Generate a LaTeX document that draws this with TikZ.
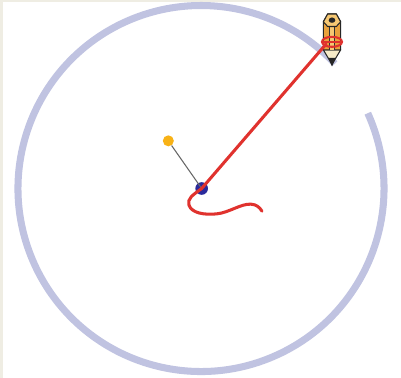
\documentclass[tikz,border=0pt]{standalone}
\definecolor{paper}{HTML}{EFEDE3}
\definecolor{track}{HTML}{C0C3E1}
\definecolor{trace}{HTML}{E0322E}
\definecolor{hubblue}{HTML}{2A2A9C}
\definecolor{pinyellow}{HTML}{F8B216}
\definecolor{wood}{HTML}{E9A23C}
\definecolor{woodlight}{HTML}{F6C873}
\definecolor{cone}{HTML}{F6EBC8}
\tikzset{
  dot/.style={circle,inner sep=0pt,minimum size=#1},
  outline/.style={draw=black!85,line width=.9pt,line join=round}
}
\begin{document}
\begin{tikzpicture}
\useasboundingbox (-6.03,-5.685) rectangle (6,5.655);
\fill[paper] (-6.03,-5.685) rectangle (6,5.655);
\fill[white] (-5.94,-5.685) rectangle (6,5.595);
\draw[track,line width=6pt] (24.3:5.49) arc (24.3:-317:5.49);
\node[dot=.38cm,fill=hubblue] (hub) at (0.02,0) {};
\node[dot=.33cm,fill=pinyellow] (pin) at (-0.98,1.43) {};
\coordinate (nib) at (3.75,4.33);
\draw[black!60,line width=.9pt] (pin) -- (hub.center);
% pencil
\draw[outline,fill=cone] (3.67,4.16) -- (3.93,3.72) -- (4.19,4.16) -- cycle;
\fill[black!85] (3.82,3.92) -- (3.93,3.66) -- (4.04,3.92) -- cycle;
\draw[outline,fill=wood] (3.67,5) -- (3.8,5.235) -- (4.06,5.235) -- (4.19,5) -- (4.19,4.16) -- (3.67,4.16) -- cycle;
\fill[woodlight] (3.85,4.9) rectangle (4.01,4.16);
\draw[black!80,line width=.5pt] (3.85,4.9) -- (3.85,4.16) (4.01,4.9) -- (4.01,4.16);
\draw[outline,fill=woodlight] (3.67,5) -- (3.8,5.235) -- (4.06,5.235) -- (4.19,5) -- (4.06,4.86) -- (3.8,4.86) -- cycle;
\fill[black!85] (3.93,5.05) ellipse (.1 and .08);
% red trace
\draw[trace,line width=2.6pt,line cap=round,line join=round] (nib) -- (hub.center) .. controls (-0.25,-0.2) and (-0.42,-0.3) .. (-0.36,-0.5)
  .. controls (-0.28,-0.74) and (0.1,-0.8) .. (0.48,-0.76)
  .. controls (0.85,-0.72) and (1.2,-0.45) .. (1.5,-0.47)
  .. controls (1.65,-0.48) and (1.75,-0.55) .. (1.83,-0.68);
\draw[trace,line width=1.8pt] (3.93,4.4) ellipse (.3 and .15);
\draw[trace,line width=1.2pt] (3.67,4.4) -- (4.19,4.4);
\end{tikzpicture}
\end{document}
